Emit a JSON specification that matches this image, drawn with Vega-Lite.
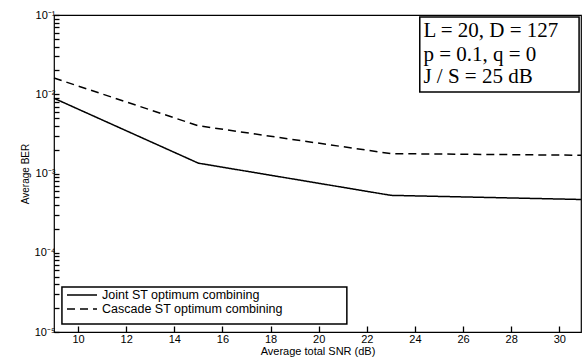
{
  "$schema": "https://vega.github.io/schema/vega-lite/v6.json",
  "width": 527,
  "height": 317,
  "autosize": {"type": "none"},
  "padding": {"left": 54, "top": 15, "right": 1, "bottom": 32},
  "config": {
    "view": {"stroke": "black", "strokeWidth": 1.2}
  },
  "datasets": {
    "curves": [
      {"snr": 9, "ber": 0.0089, "series": "Joint ST optimum combining"},
      {"snr": 15, "ber": 0.00135, "series": "Joint ST optimum combining"},
      {"snr": 23, "ber": 0.00053, "series": "Joint ST optimum combining"},
      {"snr": 30.9, "ber": 0.00047, "series": "Joint ST optimum combining"},
      {"snr": 9, "ber": 0.0160, "series": "Cascade ST optimum combining"},
      {"snr": 15, "ber": 0.0040, "series": "Cascade ST optimum combining"},
      {"snr": 23, "ber": 0.00178, "series": "Cascade ST optimum combining"},
      {"snr": 30.9, "ber": 0.00170, "series": "Cascade ST optimum combining"}
    ],
    "boxes": [
      {"snr": 24.2, "snr2": 30.82, "ber": 0.0944, "ber2": 0.0107},
      {"snr": 9.33, "snr2": 21.17, "ber": 0.000037, "ber2": 0.0000126}
    ],
    "notes": [
      {"snr": 24.35, "ber": 0.063, "label": "L = 20, D = 127"},
      {"snr": 24.35, "ber": 0.0313, "label": "p = 0.1, q = 0"},
      {"snr": 24.35, "ber": 0.0166, "label": "J / S = 25 dB"}
    ]
  },
  "layer": [
    {
      "data": {"name": "curves"},
      "mark": {"type": "line", "color": "black", "strokeWidth": 1.5},
      "encoding": {
        "x": {
          "field": "snr", "type": "quantitative",
          "scale": {"domain": [9, 30.9], "nice": false, "zero": false},
          "axis": {
            "title": "Average total SNR (dB)",
            "values": [10, 12, 14, 16, 18, 20, 22, 24, 26, 28, 30],
            "domain": false, "grid": false,
            "ticks": true, "tickColor": "black", "tickWidth": 1.3, "tickSize": -6,
            "labelPadding": 7, "titlePadding": 1,
            "labelColor": "black", "titleColor": "black",
            "labelFont": "Liberation Sans", "titleFont": "Liberation Sans",
            "titleFontWeight": "normal", "labelFontSize": 11, "titleFontSize": 11
          }
        },
        "y": {
          "field": "ber", "type": "quantitative",
          "scale": {"type": "log", "domain": [0.00001, 0.1], "nice": false},
          "axis": {
            "title": "Average BER",
            "domain": false, "grid": false,
            "ticks": true, "tickColor": "black", "tickWidth": 1.3, "tickSize": -5,
            "values": [0.00001, 0.00002, 0.00003, 0.00004, 0.00005, 0.00006, 0.00007, 0.00008, 0.00009,
                       0.0001, 0.0002, 0.0003, 0.0004, 0.0005, 0.0006, 0.0007, 0.0008, 0.0009,
                       0.001, 0.002, 0.003, 0.004, 0.005, 0.006, 0.007, 0.008, 0.009,
                       0.01, 0.02, 0.03, 0.04, 0.05, 0.06, 0.07, 0.08, 0.09, 0.1],
            "labelExpr": "abs(log(datum.value)/LN10 - round(log(datum.value)/LN10)) < 0.001 ? '10' + ['⁻⁵','⁻⁴','⁻³','⁻²','⁻¹'][round(log(datum.value)/LN10) + 5] : ''",
            "labelPadding": 4, "titlePadding": 4,
            "labelColor": "black", "titleColor": "black",
            "labelFont": "Liberation Sans", "titleFont": "Liberation Sans",
            "titleFontWeight": "normal", "labelFontSize": 11, "titleFontSize": 10
          }
        },
        "strokeDash": {
          "field": "series", "type": "nominal",
          "scale": {
            "domain": ["Joint ST optimum combining", "Cascade ST optimum combining"],
            "range": [[1, 0], [8, 5]]
          },
          "legend": {
            "title": null,
            "orient": "none",
            "legendX": 12,
            "legendY": 273,
            "symbolType": "stroke",
            "symbolSize": 900,
            "clipHeight": 14,
            "symbolStrokeWidth": 1.5,
            "symbolStrokeColor": "black",
            "labelFont": "Liberation Sans",
            "labelFontSize": 12.5,
            "labelColor": "black",
            "labelLimit": 0,
            "rowPadding": 0,
            "labelOffset": 4,
            "zindex": 2
          }
        }
      }
    },
    {
      "data": {"name": "boxes"},
      "mark": {"type": "rect", "fill": "white", "stroke": "black", "strokeWidth": 1.5},
      "encoding": {
        "x": {"field": "snr", "type": "quantitative"},
        "x2": {"field": "snr2"},
        "y": {"field": "ber", "type": "quantitative"},
        "y2": {"field": "ber2"}
      }
    },
    {
      "data": {"name": "notes"},
      "mark": {"type": "text", "align": "left", "baseline": "middle", "font": "Liberation Serif", "fontSize": 21, "color": "black"},
      "encoding": {
        "x": {"field": "snr", "type": "quantitative"},
        "y": {"field": "ber", "type": "quantitative"},
        "text": {"field": "label"}
      }
    }
  ]
}
